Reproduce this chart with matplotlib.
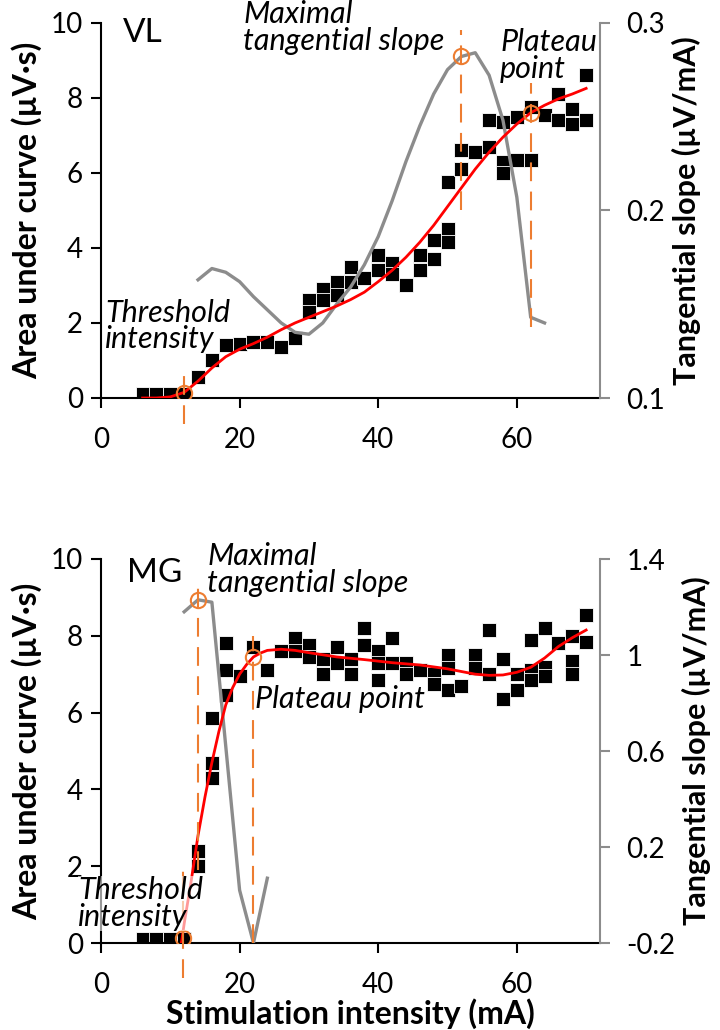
import matplotlib
matplotlib.use("Agg")
import matplotlib.pyplot as plt

plt.rcParams["font.family"] = ["Lato", "DejaVu Sans"]

ORANGE = "#ED7D31"
GREY = "#8C8C8C"
RED = "#FF0000"

# ---- VL panel ----
vl_x = [6, 8, 10, 12, 14, 16, 18, 20, 22, 24, 26, 28, 30, 30, 32, 32, 34, 34, 36, 36,
        38, 40, 40, 42, 42, 44, 46, 46, 48, 48, 50, 50, 50, 52, 52, 54, 56, 56, 58, 58,
        58, 60, 60, 62, 62, 64, 66, 66, 68, 68, 70, 70]
vl_y = [0.1, 0.1, 0.1, 0.1, 0.55, 1.0, 1.4, 1.45, 1.5, 1.5, 1.35, 1.6, 2.6, 2.3, 2.9, 2.6, 3.1, 2.75, 3.5, 3.1,
        3.2, 3.8, 3.4, 3.6, 3.3, 3.0, 3.8, 3.4, 4.2, 3.7, 4.5, 4.15, 5.75, 6.6, 6.1, 6.55, 6.7, 7.4, 6.3, 6.0,
        7.35, 6.35, 7.5, 6.35, 7.75, 7.55, 8.1, 7.4, 7.7, 7.3, 7.4, 8.6]

vl_fit_x = [6, 8, 10, 12, 14, 16, 18, 20, 22, 24, 26, 28, 30, 32, 34, 36, 38, 40, 42, 44,
            46, 48, 50, 52, 54, 56, 58, 60, 62, 64, 66, 68, 70]
vl_fit_y = [0.0, 0.0, 0.03, 0.15, 0.45, 0.8, 1.1, 1.3, 1.45, 1.62, 1.82, 2.0, 2.15, 2.3, 2.45, 2.62, 2.82, 3.1, 3.4, 3.75,
            4.15, 4.6, 5.1, 5.6, 6.1, 6.55, 6.95, 7.3, 7.6, 7.8, 7.97, 8.1, 8.25]

vl_slope_x = [14, 16, 18, 20, 22, 24, 26, 28, 30, 32, 34, 36, 38, 40, 42, 44, 46, 48, 50, 52,
              54, 56, 58, 60, 62, 64]
vl_slope_y = [0.163, 0.169, 0.167, 0.162, 0.154, 0.147, 0.140, 0.135, 0.134, 0.140, 0.150, 0.159, 0.171, 0.186,
              0.205, 0.226, 0.245, 0.262, 0.275, 0.282, 0.284, 0.272, 0.248, 0.207, 0.143, 0.140]

vl_threshold = (12, 0.12)
vl_max_slope = (52, 0.282)
vl_plateau = (62, 7.6)

# ---- MG panel ----
mg_x = [6, 8, 10, 12, 14, 14, 16, 16, 16, 18, 18, 18, 20, 22, 24, 26, 28, 28, 30, 30,
        32, 32, 34, 34, 36, 36, 38, 38, 40, 40, 40, 42, 42, 44, 44, 46, 48, 48, 50, 50,
        50, 52, 54, 54, 56, 56, 58, 58, 60, 60, 62, 62, 62, 64, 64, 64, 66, 68, 68, 68,
        70, 70]
mg_y = [0.1, 0.1, 0.1, 0.1, 2.4, 2.0, 4.7, 4.3, 5.85, 6.45, 7.1, 7.8, 6.95, 7.7, 7.1, 7.6, 7.95, 7.6, 7.75, 7.45,
        7.4, 7.0, 7.7, 7.3, 7.4, 7.0, 8.2, 7.75, 7.6, 7.3, 6.85, 7.95, 7.3, 7.3, 7.0, 7.1, 7.0, 6.75, 7.5, 7.15,
        6.6, 6.7, 7.5, 7.15, 8.15, 7.0, 7.4, 6.35, 7.0, 6.6, 7.9, 7.1, 6.85, 8.2, 7.2, 6.95, 7.8, 8.0, 7.35, 7.0,
        8.55, 7.85]

mg_fit_x = [11.6, 12, 13, 14, 15, 16, 17, 18, 19, 20, 21, 22, 23, 24, 26, 28, 30, 34, 38, 42,
            46, 50, 54, 56, 58, 60, 62, 64, 66, 68, 70]
mg_fit_y = [0.0, 0.5, 1.6, 2.8, 3.8, 4.7, 5.5, 6.2, 6.65, 7.0, 7.25, 7.45, 7.55, 7.62, 7.65, 7.62, 7.56, 7.45, 7.38, 7.3,
            7.24, 7.14, 7.0, 6.97, 6.98, 7.05, 7.18, 7.42, 7.72, 7.95, 8.15]

mg_slope_x = [12, 14, 16, 18, 20, 22, 24]
mg_slope_y = [1.18, 1.23, 1.22, 0.62, 0.02, -0.2, 0.07]

mg_threshold = (11.8, 0.12)
mg_max_slope = (14, 1.23)
mg_plateau = (22, 7.46)

x_ticks = [0, 20, 40, 60]
y_ticks = [0, 2, 4, 6, 8, 10]
vl_right_ticks = [0.1, 0.2, 0.3]
vl_right_labels = ["0.1", "0.2", "0.3"]
mg_right_ticks = [-0.2, 0.2, 0.6, 1.0, 1.4]
mg_right_labels = ["-0.2", "0.2", "0.6", "1", "1.4"]

TICK_FS = 20
LABEL_FS = 23
NOTE_FS = 22


def setup_axes(ax, ax2, rlim, rticks, rlabels):
    ax.set_xlim(0, 72)
    ax.set_ylim(0, 10)
    ax.set_xticks(x_ticks)
    ax.set_yticks(y_ticks)
    for s in ["top", "right"]:
        ax.spines[s].set_visible(False)
    for s in ["left", "bottom"]:
        ax.spines[s].set_linewidth(1.5)
    ax.tick_params(axis="y", direction="out", length=7, width=1.5, labelsize=TICK_FS, pad=6)
    ax.tick_params(axis="x", direction="out", length=7, width=1.5, labelsize=TICK_FS, pad=14)
    ax.set_ylabel("Area under curve (µV·s)", fontsize=LABEL_FS, fontweight="bold", labelpad=6)

    ax2.set_ylim(*rlim)
    ax2.set_yticks(rticks)
    ax2.set_yticklabels(rlabels)
    for s in ["top", "left", "bottom"]:
        ax2.spines[s].set_visible(False)
    ax2.spines["right"].set_color(GREY)
    ax2.spines["right"].set_linewidth(1.5)
    ax2.tick_params(axis="y", direction="out", length=7, width=1.5, color=GREY,
                    labelcolor="black", labelsize=TICK_FS, pad=12)
    ax2.set_ylabel("Tangential slope (µV/mA)", fontsize=22, fontweight="bold",
                   rotation=90, labelpad=5)


def draw_panel(ax, ax2, xs, ys, fx, fy, sx, sy, thr, mx, pl, thr_span, mx_span, pl_span):
    t = ax.transData
    ax.plot(xs, ys, linestyle="none", marker="s", markersize=10, color="black",
            markeredgecolor="white", markeredgewidth=0.6, zorder=2)
    ax2.plot(sx, sy, color=GREY, lw=2.4, zorder=2, solid_joinstyle="round")
    ax2.plot(fx, fy, color=RED, lw=2.0, transform=t, zorder=3)
    for xv, span in [(thr[0], thr_span), (mx[0], mx_span), (pl[0], pl_span)]:
        ax2.plot([xv, xv], span, color=ORANGE, lw=1.5, dashes=(9, 5), transform=t,
                 zorder=4, clip_on=False)
    ax2.plot(*thr, marker="o", ms=11, mfc="none", mec=ORANGE, mew=1.5, transform=t, zorder=5)
    ax2.plot(*mx, marker="o", ms=11, mfc="none", mec=ORANGE, mew=1.5, zorder=5)
    ax2.plot(*pl, marker="o", ms=11, mfc="none", mec=ORANGE, mew=1.5, transform=t, zorder=5)


fig = plt.figure(figsize=(7.2, 10.3), dpi=100)
ax_top = fig.add_axes([101 / 720, 1 - 398 / 1030, 499 / 720, 375.3 / 1030])
ax_top2 = ax_top.twinx()
ax_bot = fig.add_axes([101 / 720, 1 - 943 / 1030, 499 / 720, 384 / 1030])
ax_bot2 = ax_bot.twinx()

setup_axes(ax_top, ax_top2, (0.1, 0.3), vl_right_ticks, vl_right_labels)
setup_axes(ax_bot, ax_bot2, (-0.2, 1.4), mg_right_ticks, mg_right_labels)

draw_panel(ax_top, ax_top2, vl_x, vl_y, vl_fit_x, vl_fit_y, vl_slope_x, vl_slope_y,
           vl_threshold, vl_max_slope, vl_plateau, (-0.7, 0.7), (5.0, 9.8), (1.9, 8.4))
draw_panel(ax_bot, ax_bot2, mg_x, mg_y, mg_fit_x, mg_fit_y, mg_slope_x, mg_slope_y,
           mg_threshold, mg_max_slope, mg_plateau, (-0.9, 2.1), (1.9, 9.45), (0.0, 8.0))

ax_bot.set_xlabel("Stimulation intensity (mA)", fontsize=LABEL_FS, fontweight="bold", labelpad=0)

note = dict(fontsize=NOTE_FS, fontstyle="italic", linespacing=0.95, zorder=10)
tt = ax_top.transData
ax_top2.text(3.2, 9.73, "VL", fontsize=24, va="center", ha="left", transform=tt)
ax_top2.text(20.5, 10.6, "Maximal\ntangential slope", va="top", ha="left", transform=tt,
             clip_on=False, **note)
ax_top2.text(57.6, 9.85, "Plateau\npoint", va="top", ha="left", transform=tt, **note)
ax_top2.text(0.6, 2.65, "Threshold\nintensity", va="top", ha="left", transform=tt, **note)

tb = ax_bot.transData
ax_bot2.text(3.75, 9.64, "MG", fontsize=24, va="center", ha="left", transform=tb)
ax_bot2.text(15.3, 10.45, "Maximal\ntangential slope", va="top", ha="left", transform=tb,
             clip_on=False, **note)
ax_bot2.text(22.2, 6.35, "Plateau point", va="center", ha="left", transform=tb, **note)
ax_bot2.text(-3.3, 1.75, "Threshold\nintensity", va="top", ha="left", transform=tb,
             clip_on=False,
             bbox=dict(facecolor="white", alpha=0.6, edgecolor="none", pad=0), **note)

fig.savefig("out.png", dpi=100)
